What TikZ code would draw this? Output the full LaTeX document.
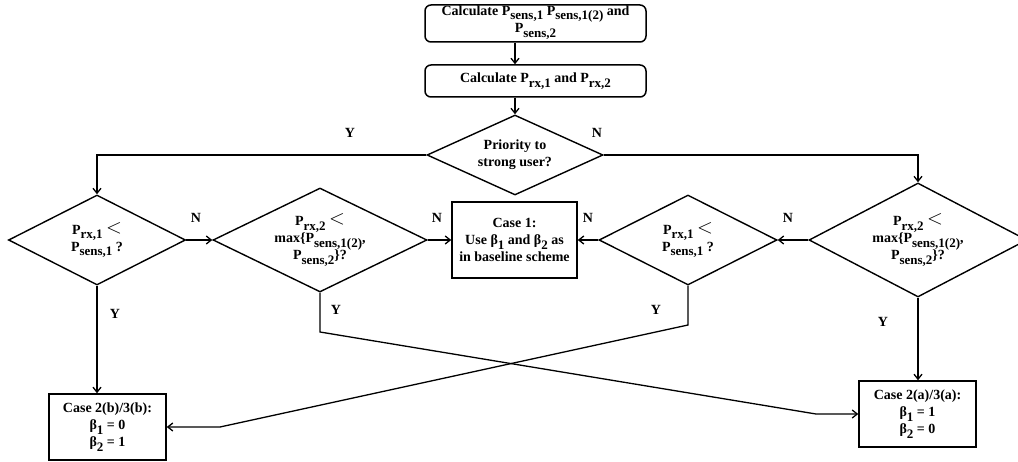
\documentclass[tikz,border=0pt]{standalone}
\usepackage{fontspec}
\setmainfont{Liberation Serif}
\usetikzlibrary{shapes.geometric,arrows.meta}
\newcommand\sbs[1]{\raisebox{-0.32em}{\fontsize{13}{13}\selectfont #1}}
\newcommand\lessthan{\raisebox{0.05em}{\fontsize{20}{20}\selectfont$<$}}
\begin{document}
\begin{tikzpicture}[x=1pt,y=-1pt,
  every node/.style={font=\fontsize{14}{17}\selectfont\bfseries, align=center},
  rbox/.style={draw, line width=1.5pt, rounded corners=6pt, inner sep=0pt},
  sbox/.style={draw, line width=1.6pt, inner sep=0pt},
  dia/.style={diamond, draw, line width=1.4pt, inner sep=0pt},
  arr/.style={line width=1.3pt, -{Straight Barb[length=5pt,width=8pt]}},
  lab/.style={inner sep=0pt}]
\useasboundingbox (0,0) rectangle (1018,462);
% boxes
\node[rbox, minimum width=221pt, minimum height=37pt] (top1) at (535.5,23.5) {};
\node[inner sep=0pt, font=\fontsize{14}{14}\selectfont\bfseries] (top1t) at (535.5,22.5)
  {Calculate P\sbs{sens,1} P\sbs{sens,1(2)} and\\P\sbs{sens,2}};
\node[rbox, minimum width=221pt, minimum height=32pt] (top2) at (535.5,81)
  {Calculate P\sbs{rx,1} and P\sbs{rx,2}};
\node[dia, minimum width=176pt, minimum height=80pt,
  label={[lab,align=center]center:Priority to\\strong user?}] (dec0) at (515,155) {};
\node[dia, minimum width=177pt, minimum height=90pt,
  label={[lab,align=center]center:P\sbs{rx,1} \lessthan\\P\sbs{sens,1} ?}] (L1) at (97,240) {};
\node[dia, minimum width=214pt, minimum height=104pt,
  label={[lab,align=center]center:P\sbs{rx,2} \lessthan\\max\{P\sbs{sens,1(2)},\\P\sbs{sens,2}\}?}] (L2) at (320,240) {};
\node[sbox, minimum width=125pt, minimum height=76pt] (case1) at (514.5,240)
  {Case 1:\\Use β\sbs{1} and β\sbs{2} as\\in baseline scheme};
\node[dia, minimum width=178pt, minimum height=90pt,
  label={[lab,align=center]center:P\sbs{rx,1} \lessthan\\P\sbs{sens,1} ?}] (R1) at (688,240) {};
\node[dia, minimum width=218pt, minimum height=114pt,
  label={[lab,align=center]center:P\sbs{rx,2} \lessthan\\max\{P\sbs{sens,1(2)},\\P\sbs{sens,2}\}?}] (R2) at (918,240) {};
\node[sbox, minimum width=117pt, minimum height=66pt] (case2b) at (107.5,427)
  {Case 2(b)/3(b):\\β\sbs{1} = 0\\β\sbs{2} = 1};
\node[sbox, minimum width=117pt, minimum height=66pt] (case2a) at (917.5,414)
  {Case 2(a)/3(a):\\β\sbs{1} = 1\\β\sbs{2} = 0};
% connectors
\draw[arr] (dec0.north |- top1.south) -- (dec0.north |- top2.north);
\draw[arr] (dec0.north |- top2.south) -- (dec0.north);
\draw[arr] (dec0.west) -| (L1.north);
\draw[arr] (dec0.east) -| (R2.north);
\draw[arr] (L1.east) -- (L2.west);
\draw[arr] (L2.east) -- (case1.west);
\draw[arr] (R2.west) -- (R1.east);
\draw[arr] (R1.west) -- (case1.east);
\draw[arr] (L1.south) -- (L1.south |- case2b.north);
\draw[arr] (R2.south) -- (R2.south |- case2a.north);
\coordinate (k1) at (320,332);
\coordinate (k2) at (816,414);
\draw[arr] (L2.south) -- (k1) -- (k2) -- (case2a.west);
\coordinate (k3) at (688,325);
\coordinate (k4) at (220,427);
\draw[arr] (R1.south) -- (k3) -- (k4) -- (case2b.east);
% labels
\node[lab] (ly0) at (350,133) {Y};
\node[lab] (ln0) at (597,133) {N};
\node[lab] (ln1) at (196,218) {N};
\node[lab] (ln2) at (437,218) {N};
\node[lab] (ln3) at (588,218) {N};
\node[lab] (ln4) at (788,218) {N};
\node[lab] (ly1) at (115,314) {Y};
\node[lab] (ly2) at (336,310) {Y};
\node[lab] (ly3) at (656,310) {Y};
\node[lab] (ly4) at (883,322) {Y};
\end{tikzpicture}
\end{document}
